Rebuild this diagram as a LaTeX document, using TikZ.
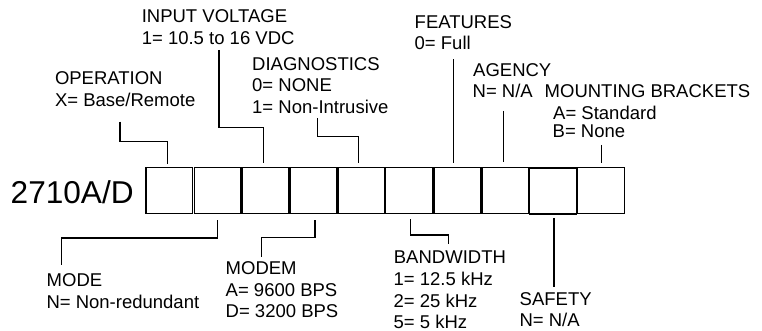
\documentclass[tikz,border=0pt]{standalone}
\usepackage{fontspec}
\setmainfont{Liberation Sans}
\begin{document}
\begin{tikzpicture}[x=1pt,y=-1pt,
  lbl/.style={anchor=base west,inner sep=0pt,font=\fontsize{18.5}{22}\selectfont},
  cell/.style={draw,line width=1.5pt,minimum width=46.6pt,minimum height=46pt,inner sep=0pt},
  conn/.style={line width=1.4pt}]
\useasboundingbox (0,0) rectangle (762,331);
% part number
\node[anchor=base west,inner sep=0pt,font=\fontsize{31.6}{36}\selectfont] (pn) at (10.5,203.3) {2710A/D};
% boxes
\foreach \i/\x in {1/169.3,2/217.6,3/265.6,4/313.6,5/361.6,6/409,7/457.3,8/505.3,10/601}
  \node[cell] (b\i) at (\x,190.3) {};
\node[cell] (b9) at (553,191.2) {};
% top labels
\node[lbl] (ivT) at (141.6,22.7) {INPUT VOLTAGE};
\node[lbl] (ivV) at (141.6,44.7) {1= 10.5 to 16 VDC};
\node[lbl] (opT) at (54.8,85) {OPERATION};
\node[lbl] (opV) at (54.8,106.7) {X= Base/Remote};
\node[lbl] (dgT) at (252,70.7) {DIAGNOSTICS};
\node[lbl] (dgV1) at (252,92) {0= NONE};
\node[lbl] (dgV2) at (252,113.3) {1= Non-Intrusive};
\node[lbl] (ftT) at (414.5,28.3) {FEATURES};
\node[lbl] (ftV) at (414.5,50) {0= Full};
\node[lbl] (agT) at (473,76.7) {AGENCY};
\node[lbl] (agV) at (472.5,97.7) {N= N/A};
\node[lbl] (mbT) at (544.5,97.5) {MOUNTING BRACKETS};
\node[lbl] (mbV1) at (553,119.5) {A= Standard};
\node[lbl] (mbV2) at (552.5,137.5) {B= None};
% bottom labels
\node[lbl] (mdT) at (46.5,286.7) {MODE};
\node[lbl] (mdV) at (46.3,308.3) {N= Non-redundant};
\node[lbl] (mmT) at (225.5,274) {MODEM};
\node[lbl] (mmV1) at (225.5,296) {A= 9600 BPS};
\node[lbl] (mmV2) at (225.5,317.7) {D= 3200 BPS};
\node[lbl] (bwT) at (393.7,263.3) {BANDWIDTH};
\node[lbl] (bwV1) at (393.5,285) {1= 12.5 kHz};
\node[lbl] (bwV2) at (393.5,307.3) {2= 25 kHz};
\node[lbl] (bwV3) at (393.5,328.3) {5= 5 kHz};
\node[lbl] (sfT) at (519.5,305) {SAFETY};
\node[lbl] (sfV) at (519.3,326.7) {N= N/A};
% connector ends
\coordinate (opE) at (120,121.7);
\coordinate (ivE) at (219,50);
\coordinate (dgE) at (317.3,118.3);
\coordinate (ftE) at (453.3,59.3);
\coordinate (agE) at (503.3,111);
\coordinate (mbE) at (601.7,145);
\coordinate (mdE) at (61.7,265);
\coordinate (mmE) at (261.7,257.3);
\coordinate (bwE) at (448.3,244.3);
\coordinate (sfE) at (554,286.7);
% connectors (top)
\draw[conn] (opE) -- (opE |- 0,141.7) -| ([xshift=-1.6pt,yshift=3pt]b1.north);
\draw[conn] (ivE) -- (ivE |- 0,127.7) -| ([xshift=-2.3pt,yshift=4pt]b3.north);
\draw[conn] (dgE) -- (dgE |- 0,136.7) -| ([xshift=-3.3pt,yshift=4pt]b5.north);
\draw[conn] (ftE) -- ([xshift=-4pt,yshift=4pt]b7.north);
\draw[conn] (agE) -- ([xshift=-2pt,yshift=5pt]b8.north);
\draw[conn] (mbE) -- ([xshift=0.7pt,yshift=4pt]b10.north);
% connectors (bottom)
\draw[conn] ([xshift=0.1pt,yshift=-6pt]b2.south) -- ++(0,18) -| (mdE);
\draw[conn] ([xshift=1.4pt,yshift=-6pt]b4.south) -- ++(0,17.4) -| (mmE);
\draw[conn] ([xshift=1.7pt,yshift=-5pt]b6.south) -- ++(0,16) -| (bwE);
\draw[conn] ([xshift=1pt,yshift=-3pt]b9.south) -- (sfE);
\end{tikzpicture}
\end{document}
